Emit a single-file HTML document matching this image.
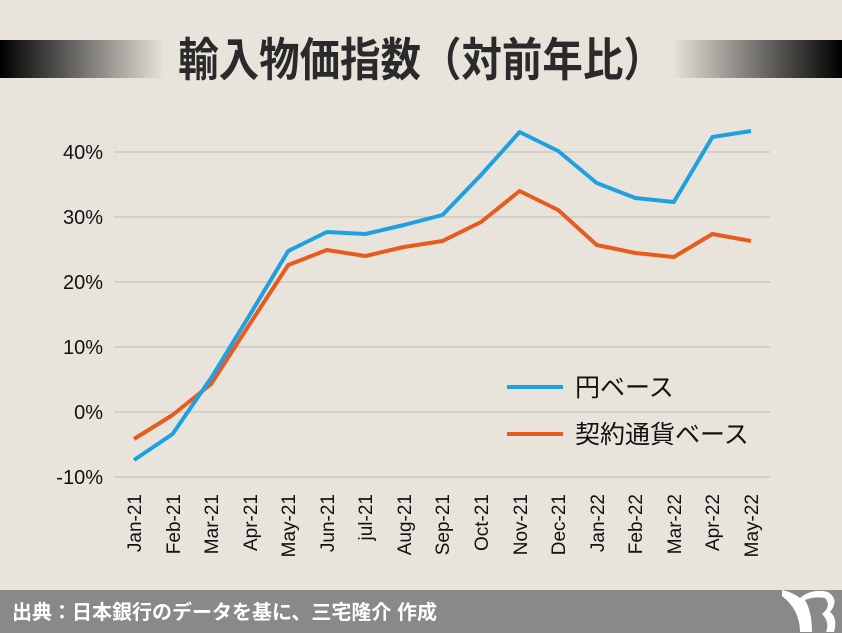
<!DOCTYPE html><html><head><meta charset="utf-8"><style>body{margin:0}svg{display:block}</style></head><body>
<svg width="842" height="633" xmlns="http://www.w3.org/2000/svg" font-family="'Liberation Sans','Noto Sans CJK JP',sans-serif">
<defs>
<linearGradient id="gl" x1="0" x2="1"><stop offset="0" stop-color="#000"/><stop offset="1" stop-color="#e8e4dc"/></linearGradient>
<linearGradient id="gr" x1="0" x2="1"><stop offset="0" stop-color="#e8e4dc"/><stop offset="1" stop-color="#000"/></linearGradient>
</defs>
<rect width="842" height="633" fill="#e8e4dc"/>
<rect x="0" y="40" width="165" height="38" fill="url(#gl)"/>
<rect x="672" y="40" width="170" height="38" fill="url(#gr)"/>
<text x="421" y="76" font-size="46" font-weight="bold" text-anchor="middle" fill="#2a2a2a" transform="translate(421 0) scale(0.88 1) translate(-421 0)">輸入物価指数（対前年比）</text>
<g stroke="#c8c4bc" stroke-width="1.2">
<line x1="114" x2="770" y1="152" y2="152"/><line x1="114" x2="770" y1="217" y2="217"/><line x1="114" x2="770" y1="282" y2="282"/><line x1="114" x2="770" y1="347" y2="347"/><line x1="114" x2="770" y1="412" y2="412"/><line x1="114" x2="770" y1="477" y2="477"/>
</g>
<g font-size="20" text-anchor="end" fill="#111">
<text x="103" y="159">40%</text><text x="103" y="224">30%</text><text x="103" y="289">20%</text><text x="103" y="354">10%</text><text x="103" y="419">0%</text><text x="103" y="484">-10%</text>
</g>
<g font-size="19" text-anchor="end" fill="#111">
<text transform="translate(141 494) rotate(-90)">Jan-21</text>
<text transform="translate(180 494) rotate(-90)">Feb-21</text>
<text transform="translate(218 494) rotate(-90)">Mar-21</text>
<text transform="translate(257 494) rotate(-90)">Apr-21</text>
<text transform="translate(295 494) rotate(-90)">May-21</text>
<text transform="translate(334 494) rotate(-90)">Jun-21</text>
<text transform="translate(372 494) rotate(-90)">jul-21</text>
<text transform="translate(411 494) rotate(-90)">Aug-21</text>
<text transform="translate(449 494) rotate(-90)">Sep-21</text>
<text transform="translate(488 494) rotate(-90)">Oct-21</text>
<text transform="translate(527 494) rotate(-90)">Nov-21</text>
<text transform="translate(565 494) rotate(-90)">Dec-21</text>
<text transform="translate(604 494) rotate(-90)">Jan-22</text>
<text transform="translate(642 494) rotate(-90)">Feb-22</text>
<text transform="translate(681 494) rotate(-90)">Mar-22</text>
<text transform="translate(719 494) rotate(-90)">Apr-22</text>
<text transform="translate(758 494) rotate(-90)">May-22</text>
</g>
<polyline fill="none" stroke="#e85a1e" stroke-width="4" stroke-linejoin="round" points="134,439 172.6,415 211.1,384 249.7,324 288.2,265 326.8,250 365.4,256 403.9,247 442.5,241 481,222 519.6,191 558.2,210 596.7,245 635.3,253 673.8,257 712.4,234 751,241"/>
<polyline fill="none" stroke="#1ea0e2" stroke-width="4" stroke-linejoin="round" points="134,460 172.6,434 211.1,378 249.7,315 288.2,251 326.8,232 365.4,234 403.9,225 442.5,215 481,175 519.6,132 558.2,151 596.7,183 635.3,198 673.8,202 712.4,137 751,131"/>
<line x1="507" x2="563" y1="387" y2="387" stroke="#1ea0e2" stroke-width="4"/>
<line x1="507" x2="563" y1="434" y2="434" stroke="#e85a1e" stroke-width="4"/>
<g font-size="25" fill="#111"><text x="575" y="396">円ベース</text><text x="575" y="443">契約通貨ベース</text></g>
<rect x="0" y="590" width="842" height="43" fill="#898989"/>
<text x="12" y="619" font-size="20" font-weight="bold" fill="#fff">出典：日本銀行のデータを基に、三宅隆介 作成</text>
<path d="M782 596 Q800 610 800 632 L812 632 Q812 612 805 600 Q815 596 825 598 Q832 606 822 614 Q830 622 826 632 L834 632 Q838 618 830 612 Q840 600 828 592 Q812 588 800 598 Q792 592 782 590Z" fill="#fff"/>
</svg>
</body></html>
